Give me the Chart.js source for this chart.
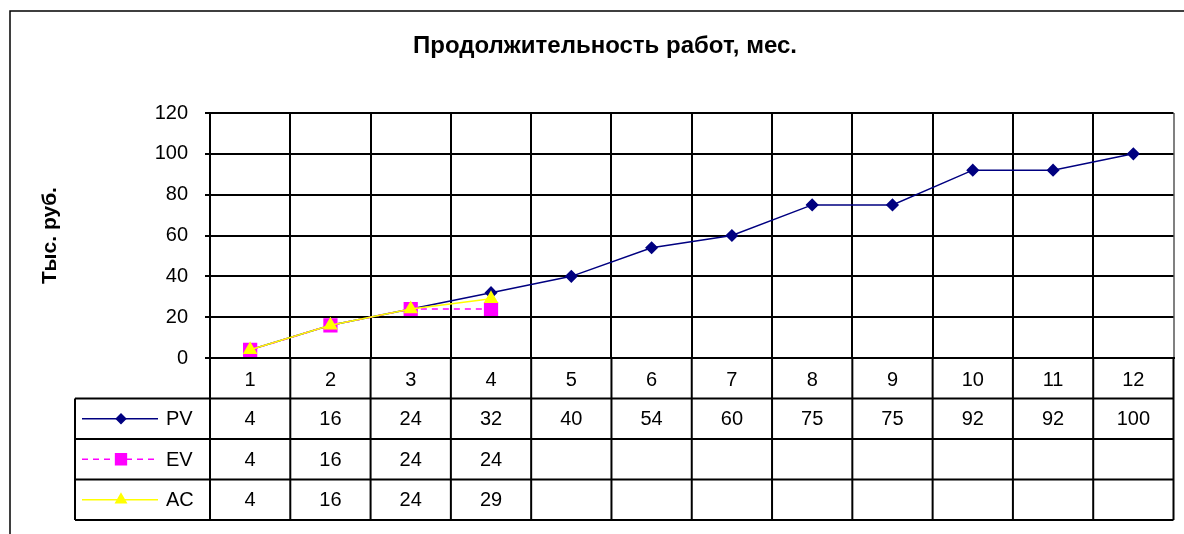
<!DOCTYPE html>
<html>
<head>
<meta charset="utf-8">
<title>Продолжительность работ, мес.</title>
<script src="https://cdn.jsdelivr.net/npm/chart.js@4.4.0/dist/chart.umd.min.js"></script>
<style>
    html, body { margin: 0; padding: 0; background: #fff; }
    #wrap { width: 1184px; height: 534px; position: relative; }
</style>
</head>
<body>
<div id="wrap"><canvas id="chart"></canvas></div>
<script>
// Chart data
const chartTitle = 'Продолжительность работ, мес.';
const yAxisTitle = 'Тыс. руб.';
const months = ['1', '2', '3', '4', '5', '6', '7', '8', '9', '10', '11', '12'];
const pvValues = [4, 16, 24, 32, 40, 54, 60, 75, 75, 92, 92, 100];
const evValues = [4, 16, 24, 24];
const acValues = [4, 16, 24, 29];
const yTicks = [0, 20, 40, 60, 80, 100, 120];

const FONT = '"Liberation Sans", Arial, sans-serif';

// draws a marker, uses Chart.js helper when it is there
function drawMarker(ctx, style, radius, x, y) {
    if (Chart.helpers && Chart.helpers.drawPoint) {
        Chart.helpers.drawPoint(ctx, { pointStyle: style, radius: radius, rotation: 0, borderWidth: 1 }, x, y);
        return;
    }
    ctx.beginPath();
    ctx.arc(x, y, radius, 0, Math.PI * 2);
    ctx.fill();
}

// white page, outer frame and the chart title
const chartFrame = {
    id: 'chartFrame',
    beforeDraw(chart) {
        const { ctx, width, height } = chart;
        ctx.save();
        ctx.fillStyle = '#fff';
        ctx.fillRect(0, 0, width, height);
        ctx.strokeStyle = '#000';
        ctx.lineWidth = 1.5;
        ctx.strokeRect(10, 11, width + 20, height + 20);
        ctx.restore();
    },
    afterDraw(chart) {
        const { ctx } = chart;
        ctx.save();
        ctx.fillStyle = '#000';
        ctx.font = 'bold 24px ' + FONT;
        ctx.textAlign = 'center';
        ctx.textBaseline = 'middle';
        ctx.fillText(chartTitle, 605, 46);
        ctx.restore();
    }
};

// data table under the plot (category row + one row per series)
const dataTable = {
    id: 'dataTable',
    afterDraw(chart) {
        const { ctx, chartArea: a, scales: { x } } = chart;
        const rowH = 40.5;
        const colW = (a.right - a.left) / months.length;
        const keyLeft = 75;
        const top = a.bottom;
        const bottom = top + rowH * 4;

        ctx.save();
        ctx.strokeStyle = '#000';
        ctx.lineWidth = 2;
        ctx.beginPath();
        for (let i = 0; i <= months.length; i++) {
            const px = a.left + colW * i;
            ctx.moveTo(px, top);
            ctx.lineTo(px, bottom);
        }
        for (let r = 1; r <= 4; r++) {
            const py = top + rowH * r;
            ctx.moveTo(keyLeft, py);
            ctx.lineTo(a.right, py);
        }
        ctx.moveTo(keyLeft, top + rowH);
        ctx.lineTo(keyLeft, bottom);
        ctx.stroke();

        ctx.fillStyle = '#000';
        ctx.font = '20px ' + FONT;
        ctx.textAlign = 'center';
        ctx.textBaseline = 'middle';
        months.forEach((m, i) => ctx.fillText(m, x.getPixelForValue(i), top + rowH / 2 + 2));

        chart.data.datasets.forEach((ds, r) => {
            const cy = top + rowH * (r + 1.5);
            ctx.fillStyle = '#000';
            ctx.textAlign = 'center';
            ds.data.forEach((v, i) => ctx.fillText(String(v), x.getPixelForValue(i), cy + 1));

            // legend key
            ctx.save();
            ctx.strokeStyle = ds.borderColor;
            ctx.lineWidth = ds.borderWidth;
            ctx.setLineDash(ds.borderDash || []);
            ctx.beginPath();
            ctx.moveTo(keyLeft + 7, cy);
            ctx.lineTo(keyLeft + 83, cy);
            ctx.stroke();
            ctx.setLineDash([]);
            ctx.fillStyle = ds.pointBackgroundColor;
            ctx.strokeStyle = ds.pointBorderColor;
            drawMarker(ctx, ds.pointStyle, ds.pointRadius * 0.85, keyLeft + 46, cy);
            ctx.restore();

            ctx.textAlign = 'left';
            ctx.fillText(ds.label, keyLeft + 91, cy + 1);
        });
        ctx.restore();
    }
};

const ctx = document.getElementById('chart');

new Chart(ctx, {
    type: 'line',
    data: {
        labels: months,
        datasets: [{
            label: 'PV',
            data: pvValues,
            borderColor: '#000080',
            backgroundColor: '#000080',
            borderWidth: 1.5,
            pointStyle: 'rectRot',
            pointRadius: 5.5,
            pointBackgroundColor: '#000080',
            pointBorderColor: '#000080',
            tension: 0,
            order: 2
        }, {
            label: 'EV',
            data: evValues,
            borderColor: '#ff00ff',
            backgroundColor: '#ff00ff',
            borderWidth: 1.5,
            borderDash: [6, 5],
            pointStyle: 'rect',
            pointRadius: 9,
            pointBackgroundColor: '#ff00ff',
            pointBorderColor: '#ff00ff',
            tension: 0,
            order: 1
        }, {
            label: 'AC',
            data: acValues,
            borderColor: '#ffff00',
            backgroundColor: '#ffff00',
            borderWidth: 1.5,
            pointStyle: 'triangle',
            pointRadius: 7,
            pointBackgroundColor: '#ffff00',
            pointBorderColor: '#ffff00',
            tension: 0,
            order: 0
        }]
    },
    options: {
        responsive: true,
        maintainAspectRatio: false,
        animation: false,
        layout: {
            padding: { top: 113, right: 9, bottom: 176, left: 0 }
        },
        plugins: {
            legend: { display: false },
            tooltip: { enabled: false },
            title: { display: false }
        },
        scales: {
            x: {
                type: 'category',
                offset: true,
                ticks: { display: false },
                grid: {
                    offset: true,
                    drawTicks: false,
                    lineWidth: 2,
                    color: (c) => c.type === 'tick' ? '#000' : '#808080'
                },
                border: { color: '#000', width: 2 }
            },
            y: {
                min: yTicks[0],
                max: yTicks[yTicks.length - 1],
                afterFit: (scale) => { scale.width = 210; },
                ticks: {
                    stepSize: yTicks[1] - yTicks[0],
                    color: '#000',
                    padding: 17,
                    font: { family: FONT, size: 20 }
                },
                grid: {
                    color: '#000',
                    lineWidth: 2,
                    tickLength: 5
                },
                border: { color: '#000', width: 2 },
                title: {
                    display: true,
                    text: yAxisTitle,
                    color: '#000',
                    font: { family: FONT, size: 21, weight: 'bold' },
                    padding: { top: 38, bottom: 0 }
                }
            }
        }
    },
    plugins: [chartFrame, dataTable]
});
</script>
</body>
</html>
